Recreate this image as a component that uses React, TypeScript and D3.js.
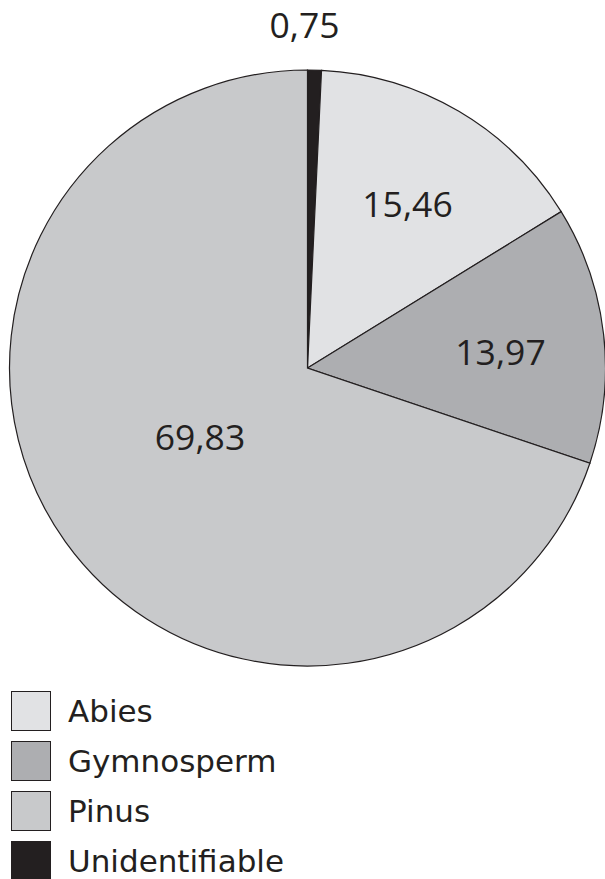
import React from "react";
import * as d3 from "d3";

const categories = ["Unidentifiable", "Abies", "Gymnosperm", "Pinus"];
const values = [0.75, 15.46, 13.97, 69.83];
const labels = ["0,75", "15,46", "13,97", "69,83"];
const colors = ["#231f20", "#e1e2e4", "#adaeb1", "#c8c9cb"];
const legendOrder = ["Abies", "Gymnosperm", "Pinus", "Unidentifiable"];

export default function App() {
  const W = 605, H = 879;
  const cx = 307.5, cy = 368, r = 298;
  const pie = d3.pie<number>().sort(null).value((d) => d)(values);
  const arc = d3.arc<d3.PieArcDatum<number>>().innerRadius(0).outerRadius(r);
  const labelPos: [number, number][] = [
    [304.5, 38],
    [407.5, 217],
    [500.5, 365],
    [200, 450],
  ];
  const colorScale = d3.scaleOrdinal<string, string>().domain(categories).range(colors);
  const font = "'DejaVu Sans', Verdana, sans-serif";
  const labelFont = "'Open Sans', sans-serif";
  return (
    <svg width={W} height={H} style={{ position: "absolute", left: 0, top: 0, background: "#fff" }}>
      <g transform={`translate(${cx},${cy})`}>
        {pie.map((p, i) => (
          <path key={i} d={arc(p) || ""} fill={colors[i]} stroke="#231f20" strokeWidth={1.2} />
        ))}
      </g>
      {labels.map((t, i) => (
        <text key={i} x={labelPos[i][0]} y={labelPos[i][1]} textAnchor="middle"
          fontFamily={labelFont} fontSize={35.5} fill="#231f20">{t}</text>
      ))}
      {legendOrder.map((c, i) => (
        <g key={c} transform={`translate(11,${691 + i * 50})`}>
          <rect x={0.5} y={0.5} width={39} height={39} fill={colorScale(c)} stroke="#231f20" strokeWidth={1} />
          <text x={57} y={20} dominantBaseline="central" fontFamily={font} fontSize={31} fill="#231f20">{c}</text>
        </g>
      ))}
    </svg>
  );
}
